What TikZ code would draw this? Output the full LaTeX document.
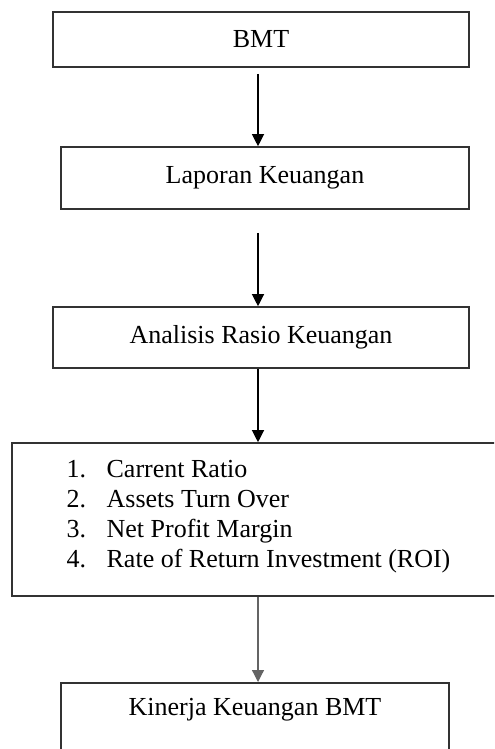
\documentclass[tikz,border=0pt]{standalone}
\usepackage{fontspec}
\setmainfont{Liberation Serif}
\usepackage{tikz}
\usetikzlibrary{arrows.meta, positioning, calc}
\usepackage{xcolor}
\definecolor{boxline}{RGB}{50,50,50}
\definecolor{arrgray}{RGB}{100,100,100}
\begin{document}
\begin{tikzpicture}[
  box/.style={draw=boxline, line width=0.8pt, fill=white,
              inner sep=0pt, align=center,
              font=\fontsize{13}{15}\selectfont},
  flow/.style={-{Triangle[length=6pt, width=6pt]}, line width=0.6pt}
]
\useasboundingbox (0,0) rectangle (247pt,-374.5pt);
\clip (0,0) rectangle (247pt,-374.5pt);
\coordinate (ax) at (129pt,0);
\node[box, minimum width=208pt, minimum height=27.5pt]
  (bmt) at (130.5pt,-19.75pt) {BMT};
\node[box, minimum width=204pt, minimum height=31pt]
  (lap) at (132.5pt,-89pt) {Laporan Keuangan};
\node[box, minimum width=208pt, minimum height=30.5pt]
  (ana) at (130.5pt,-168.75pt) {Analisis Rasio Keuangan};
\node[box, align=left, minimum width=246.5pt, minimum height=76.5pt,
  text depth=6pt]
  (rasio) at (129.25pt,-259.75pt)
  {\makebox[20pt][l]{1.}Carrent Ratio\\
   \makebox[20pt][l]{2.}Assets Turn Over\\
   \makebox[20pt][l]{3.}Net Profit Margin\\
   \makebox[20pt][l]{4.}Rate of Return Investment (ROI)};
\node[box, anchor=north, minimum width=194pt, inner ysep=7.5pt,
  text height=9pt, text depth=40pt]
  (kin) at (127.5pt,-341pt) {Kinerja Keuangan BMT};
\draw[flow, shorten <=3pt] (bmt.south -| ax) -- (lap.north -| ax);
\draw[flow, shorten <=11.5pt] (lap.south -| ax) -- (ana.north -| ax);
\draw[flow] (ana.south -| ax) -- (rasio.north -| ax);
\draw[flow, arrgray] (rasio.south -| ax) -- (kin.north -| ax);
\end{tikzpicture}
\end{document}
